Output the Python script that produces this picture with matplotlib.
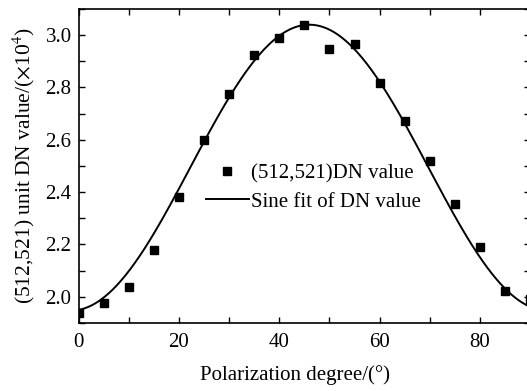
import numpy as np
import matplotlib.pyplot as plt
from matplotlib.ticker import MultipleLocator

plt.rcParams['font.family'] = ['Liberation Serif', 'DejaVu Serif']
plt.rcParams['mathtext.fontset'] = 'stix'

############################################
# data
angle = [0, 5, 10, 15, 20, 25, 30, 35, 40, 45, 50, 55, 60, 65, 70, 75, 80, 85, 90]
dn_value = [1.940, 1.977, 2.038, 2.177, 2.382, 2.600, 2.775, 2.925, 2.991, 3.038,
            2.948, 2.966, 2.817, 2.670, 2.518, 2.356, 2.191, 2.022, 1.990]

# sine fit parameters
fit_offset = 2.4936
fit_amplitude = 0.5464
fit_period = 95.0
fit_peak = 46.0

xfit = np.linspace(0, 90, 400)
yfit = fit_offset + fit_amplitude * np.cos(2 * np.pi * (xfit - fit_peak) / fit_period)

#############################################
## Plotting Data
fig = plt.figure(figsize=(5.27, 3.91), dpi=100)
ax = fig.add_axes([0.149, 0.174, 0.857, 0.803])

ax.plot(angle, dn_value, 's', color='black', markersize=5.8, label='(512,521)DN value')
ax.plot(xfit, yfit, '-', color='black', linewidth=1.4, label='Sine fit of DN value')

ax.set_xlim(0, 90)
ax.set_ylim(1.9, 3.1)
ax.xaxis.set_major_locator(MultipleLocator(20))
ax.xaxis.set_minor_locator(MultipleLocator(10))
ax.yaxis.set_major_locator(MultipleLocator(0.2))
ax.yaxis.set_minor_locator(MultipleLocator(0.1))
ax.tick_params(which='both', direction='in', top=True, right=True,
               length=4, width=1, labelsize=15)
ax.tick_params(axis='x', pad=7)
ax.tick_params(axis='y', pad=5)
for s in ax.spines.values():
    s.set_linewidth(1.2)

ax.set_xlabel('Polarization degree/(°)', fontsize=15)
ax.xaxis.set_label_coords(0.48, -0.135)
ax.set_ylabel(r'(512,521) unit DN value/($\times$10$^4$)', fontsize=15.5, labelpad=6)

ax.legend(loc='center', bbox_to_anchor=(0.52, 0.43), frameon=False,
          fontsize=15, handlelength=2.1, handletextpad=0.1, labelspacing=0.4,
          borderpad=0)

fig.savefig('out.png', dpi=100)
